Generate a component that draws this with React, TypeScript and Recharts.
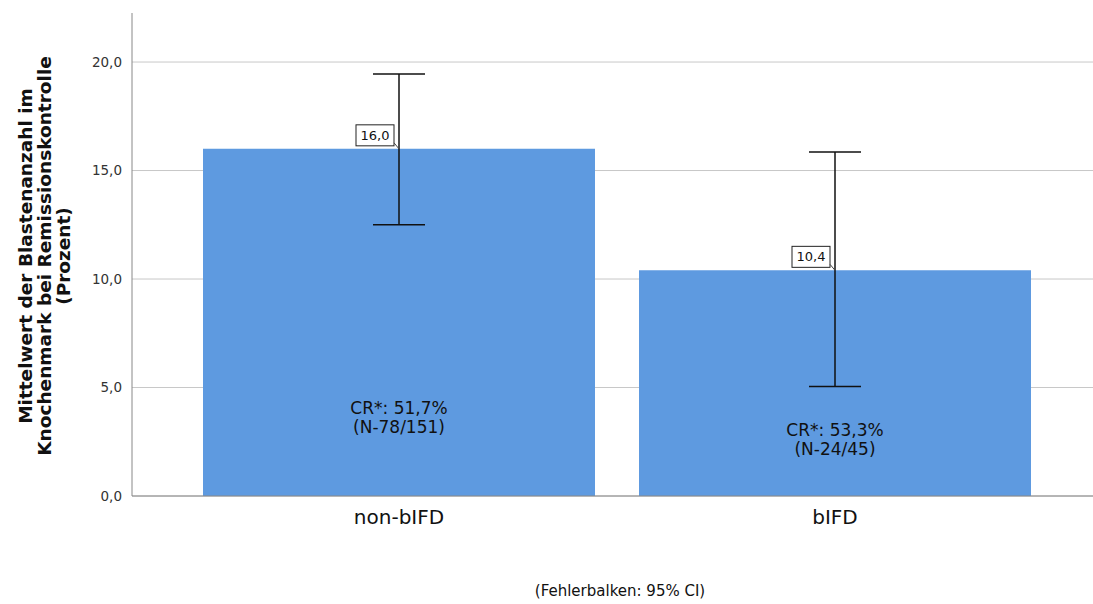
import React from 'react';
import {
  BarChart,
  Bar,
  XAxis,
  YAxis,
  CartesianGrid,
  ErrorBar,
  LabelList
} from 'recharts';

const categories = ['non-bIFD', 'bIFD'];
const means = [16.0, 10.4];
const ciLow = [12.5, 5.05];
const ciHigh = [19.45, 15.85];
const meanLabels = ['16,0', '10,4'];
const crLabels = ['CR*: 51,7%', 'CR*: 53,3%'];
const nLabels = ['(N-78/151)', '(N-24/45)'];
// height (in axis units) of the first annotation line inside each bar
const crLabelAt = [3.8, 2.75];
const yTicks = [0, 5, 10, 15, 20];

const data = categories.map((name, i) => ({
  name,
  mean: means[i],
  ci: [means[i] - ciLow[i], ciHigh[i] - means[i]],
  idx: i
}));

const FONT = '"DejaVu Sans", Verdana, sans-serif';
const BAR_COLOR = '#5e9ae0';

const fmt = (v: number) => v.toFixed(1).replace('.', ',');

const MeanBox = (props: any) => {
  const { x, y, width, index } = props;
  const cx = x + width / 2;
  const right = cx - 5;
  const left = right - 38;
  return (
    <g>
      <rect x={left} y={y - 24} width={38} height={21} fill="#fff" stroke="#222" strokeWidth={1} />
      <text x={left + 19} y={y - 9} textAnchor="middle" fontSize={13} fontFamily={FONT} fill="#111">
        {meanLabels[index]}
      </text>
      <line x1={right} y1={y - 6} x2={cx} y2={y} stroke="#444" strokeWidth={1} />
    </g>
  );
};

const CrText = (props: any) => {
  const { x, y, width, height, index } = props;
  const cx = x + width / 2;
  const bottom = y + height;
  const pxPerUnit = height / means[index];
  const ty = bottom - crLabelAt[index] * pxPerUnit;
  return (
    <text textAnchor="middle" fontSize={17} fontFamily={FONT} fill="#111">
      <tspan x={cx} y={ty}>{crLabels[index]}</tspan>
      <tspan x={cx} y={ty + 19}>{nLabels[index]}</tspan>
    </text>
  );
};

const YTitle = () => (
  <g transform="translate(0,256)">
    <text transform="rotate(-90)" textAnchor="middle" fontSize={18.5} fontWeight="bold" fontFamily={FONT} fill="#111">
      <tspan x={0} y={32}>Mittelwert der Blastenanzahl im</tspan>
      <tspan x={0} y={51}>Knochenmark bei Remissionskontrolle</tspan>
      <tspan x={0} y={70}>(Prozent)</tspan>
    </text>
  </g>
);

export default function App() {
  return (
    <div style={{ position: 'absolute', left: 0, top: 0, width: 1093, height: 604, background: '#fff' }}>
      <BarChart
        width={1093}
        height={604}
        data={data}
        margin={{ top: 13, right: 0, left: 0, bottom: 68 }}
      >
        <CartesianGrid vertical={false} stroke="#c8c8c8" horizontalValues={yTicks} />
        <XAxis
          dataKey="name"
          height={40}
          padding={{ left: 49, right: 40 }}
          axisLine={{ stroke: '#888' }}
          tickLine={false}
          tickMargin={8}
          tick={{ fontSize: 20, fontFamily: FONT, fill: '#111' }}
        />
        <YAxis
          width={132}
          domain={[0, 22.26]}
          ticks={yTicks}
          tickFormatter={fmt}
          axisLine={{ stroke: '#888' }}
          tickLine={false}
          tickMargin={4}
          tick={{ fontSize: 13.5, fontFamily: FONT, fill: '#333' }}
          label={{ content: <YTitle /> }}
        />
        <Bar dataKey="mean" fill={BAR_COLOR} barSize={392} isAnimationActive={false}>
          <LabelList dataKey="mean" content={<CrText />} />
          <LabelList dataKey="mean" content={<MeanBox />} />
          <ErrorBar dataKey="ci" width={26} stroke="#111" strokeWidth={1.5} />
        </Bar>
      </BarChart>
      <div
        style={{
          position: 'absolute',
          left: 0,
          width: 1240,
          top: 582,
          textAlign: 'center',
          fontFamily: FONT,
          fontSize: 15,
          color: '#111'
        }}
      >
        (Fehlerbalken: 95% CI)
      </div>
    </div>
  );
}
